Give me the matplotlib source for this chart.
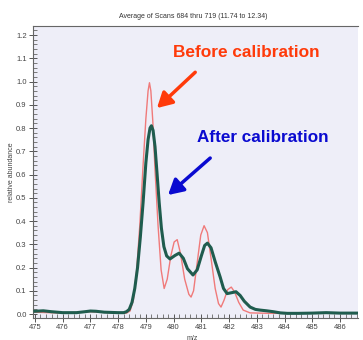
import matplotlib
matplotlib.use("Agg")
import matplotlib.pyplot as plt
from matplotlib.ticker import MultipleLocator

plt.rcParams['font.family'] = ['Liberation Sans', 'DejaVu Sans']

# m/z and relative abundance, after calibration (dark green)
mz_after = [475.0, 475.3, 475.6, 476.0, 476.5, 476.8, 477.0, 477.2, 477.5, 478.0,
            478.2, 478.3, 478.4, 478.5, 478.6, 478.7, 478.8, 478.9, 479.0, 479.08,
            479.15, 479.2, 479.26, 479.33, 479.4, 479.48, 479.56, 479.65, 479.75, 479.87,
            480.05, 480.2, 480.35, 480.5, 480.7, 480.85, 481.0, 481.12, 481.22, 481.35,
            481.5, 481.68, 481.8, 481.93, 482.1, 482.25, 482.4, 482.55, 482.76, 482.95,
            483.12, 483.35, 483.6, 483.85, 484.1, 484.5, 485.0, 485.5, 486.0, 486.65]
ab_after = [0.012, 0.014, 0.010, 0.006, 0.006, 0.010, 0.013, 0.012, 0.008, 0.006,
            0.006, 0.010, 0.020, 0.050, 0.110, 0.200, 0.330, 0.480, 0.650, 0.750,
            0.800, 0.810, 0.790, 0.720, 0.610, 0.480, 0.370, 0.290, 0.250, 0.237,
            0.252, 0.262, 0.240, 0.195, 0.168, 0.190, 0.250, 0.295, 0.305, 0.285,
            0.225, 0.159, 0.110, 0.088, 0.092, 0.096, 0.080, 0.055, 0.030, 0.020,
            0.017, 0.014, 0.010, 0.005, 0.003, 0.003, 0.004, 0.006, 0.004, 0.004]

# before calibration (light red)
mz_before = [475.0, 476.0, 477.0, 478.0, 478.3, 478.43, 478.55, 478.67, 478.78, 478.89,
             479.0, 479.08, 479.13, 479.18, 479.25, 479.33, 479.44, 479.55, 479.66, 479.77,
             479.9, 480.02, 480.13, 480.25, 480.4, 480.55, 480.63, 480.72, 480.85, 480.98,
             481.1, 481.22, 481.35, 481.5, 481.62, 481.71, 481.82, 481.95, 482.08, 482.2,
             482.35, 482.51, 482.76, 483.5, 484.5, 485.5, 486.65]
ab_before = [0.008, 0.004, 0.010, 0.004, 0.004, 0.013, 0.060, 0.190, 0.380, 0.620,
             0.840, 0.960, 0.995, 0.960, 0.830, 0.620, 0.380, 0.190, 0.110, 0.150,
             0.250, 0.310, 0.320, 0.260, 0.150, 0.085, 0.073, 0.100, 0.220, 0.340,
             0.380, 0.350, 0.240, 0.110, 0.045, 0.030, 0.060, 0.105, 0.116, 0.095,
             0.050, 0.017, 0.005, 0.003, 0.003, 0.003, 0.003]

x_ticks = [475, 476, 477, 478, 479, 480, 481, 482, 483, 484, 485, 486]
y_ticks = [0.0, 0.1, 0.2, 0.3, 0.4, 0.5, 0.6, 0.7, 0.8, 0.9, 1.0, 1.1, 1.2]

fig = plt.figure(figsize=(3.63, 3.40), dpi=100, facecolor='white')
ax = fig.add_axes([33/363, 22/340, 325/363, 292/340])
ax.set_facecolor('#eeeef8')

ax.plot(mz_before, ab_before, color='#f07a7a', lw=1.0, zorder=2,
        solid_joinstyle='round')
ax.plot(mz_after, ab_after, color='#1f5c4e', lw=2.2, zorder=3,
        solid_joinstyle='round')

ax.set_xlim(474.93, 486.65)
ax.set_ylim(-0.017, 1.239)
ax.set_xticks(x_ticks)
ax.set_xticklabels([str(t) for t in x_ticks])
ax.set_yticks(y_ticks)
ax.set_yticklabels([f"{t:.1f}" for t in y_ticks])
ax.xaxis.set_minor_locator(MultipleLocator(0.2))
ax.yaxis.set_minor_locator(MultipleLocator(0.02))
ax.tick_params(which='major', direction='inout', length=6, width=0.7, labelsize=5.5,
               colors='#555555', labelcolor='#444444', pad=1.5)
ax.tick_params(which='minor', direction='in', length=3, width=0.6, colors='#666666')

for s in ['left', 'top', 'bottom']:
    ax.spines[s].set_color('#666666')
    ax.spines[s].set_linewidth(0.8)
ax.spines['right'].set_visible(False)

ax.set_ylabel('relative abundance', fontsize=5, color='#444444', labelpad=0.5)
fig.text(0.53, 1 - 338/340, 'm/z', fontsize=5, color='#444444', ha='center', va='center')
fig.text(193/363, 1 - 17/340, 'Average of Scans 684 thru 719 (11.74 to 12.34)',
         fontsize=5, color='#333333', ha='center', va='center')

ax.text(479.98, 1.127, 'Before calibration', color='#ff3a0a', fontsize=12.4,
        fontweight='bold', ha='left', va='center')
ax.text(480.85, 0.761, 'After calibration', color='#0a0ad0', fontsize=12.3,
        fontweight='bold', ha='left', va='center')
ax.annotate('', xy=(479.40, 0.886), xytext=(480.78, 1.04),
            arrowprops=dict(arrowstyle='-|>,head_length=0.9,head_width=0.5',
                            color='#ff3a0a', lw=2.5, shrinkA=0, shrinkB=0))
ax.annotate('', xy=(479.80, 0.512), xytext=(481.32, 0.671),
            arrowprops=dict(arrowstyle='-|>,head_length=0.9,head_width=0.5',
                            color='#0a0ad0', lw=2.5, shrinkA=0, shrinkB=0))

fig.savefig('out.png', dpi=100, facecolor='white')
